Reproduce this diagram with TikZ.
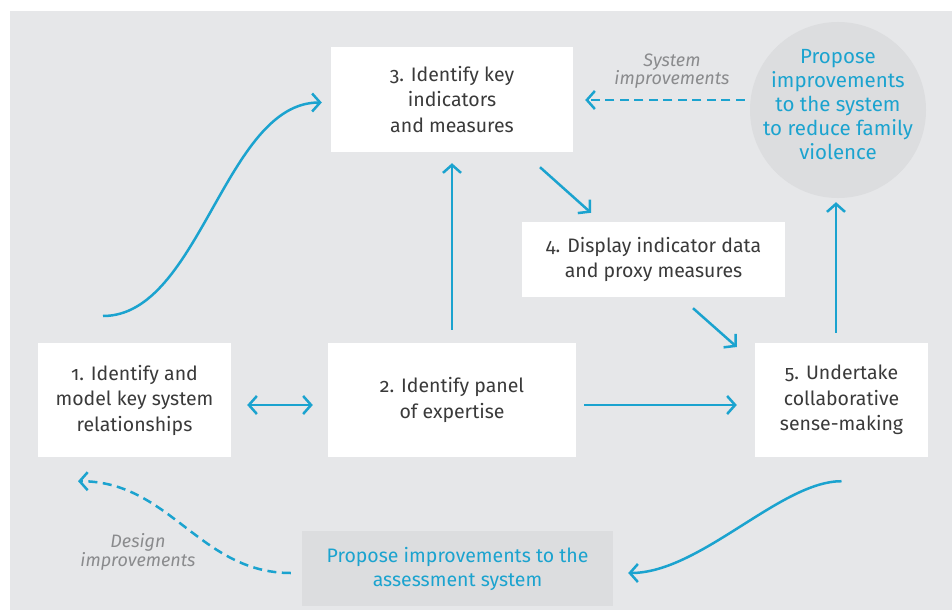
\documentclass[tikz,border=0pt]{standalone}
\usepackage{fontspec}
\setmainfont{Fira Sans}[Numbers=OldStyle]
\usetikzlibrary{arrows.meta}
\definecolor{bg}{HTML}{E6E7E9}
\definecolor{graybox}{HTML}{DCDDDF}
\definecolor{arrowblue}{HTML}{1BA3CF}
\definecolor{txt}{HTML}{3A3A3A}
\definecolor{lbl}{HTML}{8A8B8D}
\tikzset{
  box/.style={fill=white, inner sep=0pt, align=center, text=txt,
    font=\fontsize{19.5}{25.5}\selectfont},
  softbox/.style={fill=graybox, inner sep=0pt, align=center, text=arrowblue,
    font=\fontsize{19.5}{24}\selectfont},
  bluetext/.style={inner sep=0pt, align=center, text=arrowblue,
    font=\fontsize{20.5}{24}\selectfont},
  note/.style={inner sep=0pt, align=center, text=lbl,
    font=\fontsize{18}{18.5}\selectfont\itshape},
  conn/.style={draw=arrowblue, line width=2.5pt,
    -{Straight Barb[length=8pt,width=18pt,line width=2.5pt]}},
  dconn/.style={conn, dash pattern=on 9pt off 5.5pt},
}
\begin{document}
\begin{tikzpicture}[x=1pt,y=-1pt]
\useasboundingbox (0,0) rectangle (952,610);
\fill[bg] (10,11) rectangle (952,610);

\node[box, minimum width=193pt, minimum height=114pt] (b1) at (134.5,400)
  {1. Identify and\\model key system\\relationships};
\node[box, minimum width=248pt, minimum height=114pt] (b2) at (452,400)
  {2. Identify panel\\of expertise};
\node[box, minimum width=242pt, minimum height=105pt] (b3) at (452,99.5)
  {3. Identify key\\indicators\\and measures};
\node[box, minimum width=263pt, minimum height=75pt] (b4) at (653.5,259.5)
  {4. Display indicator data\\and proxy measures};
\node[box, minimum width=173pt, minimum height=114pt] (b5) at (841.5,400)
  {5. Undertake\\collaborative\\sense-making};
\node[circle, fill=graybox, minimum size=176pt, inner sep=0pt] (circ) at (838,110) {};
\node[bluetext] (ctext) at (838,104.5)
  {Propose\\improvements\\to the system\\to reduce family\\violence};
\node[softbox, minimum width=311pt, minimum height=75pt] (bb) at (457.5,568.5)
  {Propose improvements to the\\assessment system};

\node[note] (sysimp) at (672,71) {System\\improvements};
\node[note] (desimp) at (138,552) {Design\\improvements};

\coordinate (c1s) at (103,316);
\draw[conn] (c1s) .. controls +(97,0) and +(-97,0) .. ([xshift=-9pt,yshift=-3pt]b3.west);
\draw[conn] ([yshift=13pt]b2.north) -- ([yshift=-11pt]b3.south);
\draw[conn, {Straight Barb[length=8pt,width=18pt,line width=2.5pt]}-{Straight Barb[length=8pt,width=18pt,line width=2.5pt]}]
  ([xshift=16pt,yshift=-5pt]b1.east) -- ([xshift=-15pt,yshift=-5pt]b2.west);
\draw[conn] ([xshift=8pt,yshift=-5pt]b2.east) -- ([xshift=-18pt,yshift=-5pt]b5.west);
\draw[conn] ([xshift=88pt,yshift=-15pt]b3.south) -- ([xshift=-62.5pt,yshift=9pt]b4.north);
\draw[conn] ([xshift=39.5pt,yshift=-11pt]b4.south) -- ([xshift=-18pt,yshift=53pt]b5.west);
\draw[conn] ([xshift=-5.5pt,yshift=10pt]b5.north) -- ([xshift=-2pt,yshift=-4pt]circ.south);
\draw[dconn] ([xshift=-5pt,yshift=10pt]circ.west) -- ([xshift=12pt,yshift=-0.5pt]b3.east);
\draw[conn] ([yshift=-24pt]b5.south) .. controls +(-61,0) and +(72,0) .. ([xshift=15pt,yshift=-4.5pt]bb.east);
\draw[dconn] ([xshift=-11pt,yshift=-4.5pt]bb.west) .. controls +(-91,0) and +(92,0) .. ([xshift=-56.5pt,yshift=-24pt]b1.south);
\end{tikzpicture}
\end{document}
